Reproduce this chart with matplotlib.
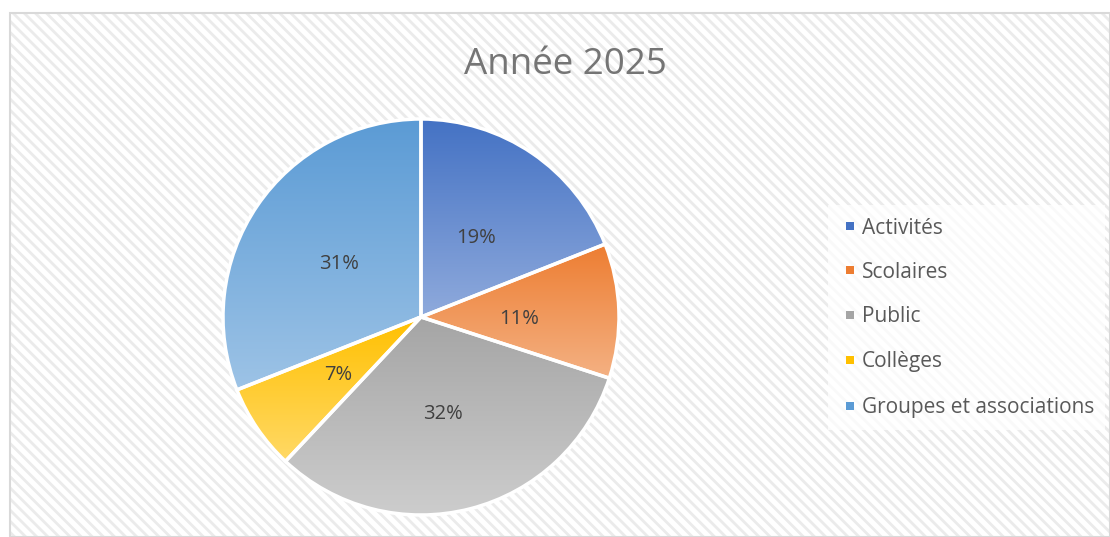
import numpy as np
import matplotlib.pyplot as plt
from matplotlib.patches import Rectangle
from matplotlib.colors import LinearSegmentedColormap

plt.rcParams['font.family'] = ['Open Sans', 'DejaVu Sans']
plt.rcParams['hatch.linewidth'] = 2.0

# data
categories = ['Activités', 'Scolaires', 'Public', 'Collèges', 'Groupes et associations']
values = [19, 11, 32, 7, 31]
labels = ['19%', '11%', '32%', '7%', '31%']
# gradient colours (top -> bottom) for each slice
top_colors = ['#4472c4', '#ed7d31', '#a5a5a5', '#ffc000', '#5b9bd5']
bottom_colors = ['#8faadc', '#f4b183', '#cdcdcd', '#ffd966', '#9dc3e6']

W, H = 1110, 537
fig = plt.figure(figsize=(W / 100, H / 100), dpi=100)
fig.patch.set_facecolor('white')
ax = fig.add_axes([0, 0, 1, 1])

# chart background with diagonal hatch
ax.add_patch(Rectangle((10, 0), W - 10, H - 13, facecolor='white', edgecolor='#ebebeb',
                       hatch='\\\\\\', linewidth=0, zorder=0))
ax.add_patch(Rectangle((10, 0), W - 10, H - 13, facecolor='none', edgecolor='#d9d9d9',
                       linewidth=1.5, zorder=1))

cx, cy, r = 421, H - 317, 198
wedges, texts = ax.pie(values, startangle=90, counterclock=False, center=(cx, cy), radius=r,
                       colors=top_colors, wedgeprops=dict(edgecolor='white', linewidth=2.5))

grad = np.linspace(0, 1, 256).reshape(-1, 1)
for w, c0, c1 in zip(wedges, top_colors, bottom_colors):
    w.set_zorder(3)
    w.set_facecolor('none')
    bb = w.get_path().get_extents(w.get_patch_transform())
    cmap = LinearSegmentedColormap.from_list('g', [c0, c1])
    im = ax.imshow(grad, cmap=cmap, aspect='auto', origin='upper',
                   extent=(bb.x0, bb.x1, bb.y0, bb.y1), zorder=2)
    im.set_clip_path(w)

# percentage labels
label_pos = [(476, 238), (519, 319), (443, 414), (338, 375), (339, 264)]
for (lx, ly), t in zip(label_pos, labels):
    ax.text(lx, H - ly, t, ha='center', va='center', fontsize=14.5, color='#404040', zorder=5)

ax.text(565, H - 65, 'Année 2025', ha='center', va='center', fontsize=26.5, color='#757575')

# legend
ax.add_patch(Rectangle((828, H - 430), 277, 225, facecolor='white', alpha=0.75,
                       edgecolor='none', zorder=1))
leg_y = [226, 270, 315, 360, 406]
for y, name, c0 in zip(leg_y, categories, top_colors):
    ax.add_patch(Rectangle((846, H - y - 4), 8, 8, facecolor=c0, edgecolor='none', zorder=4))
    ax.text(862, H - y - 2, name, ha='left', va='center', fontsize=15, color='#595959', zorder=4)

ax.set_xlim(0, W)
ax.set_ylim(0, H)
ax.set_aspect('auto')
ax.axis('off')

fig.savefig('out.png', dpi=100, facecolor='white')
